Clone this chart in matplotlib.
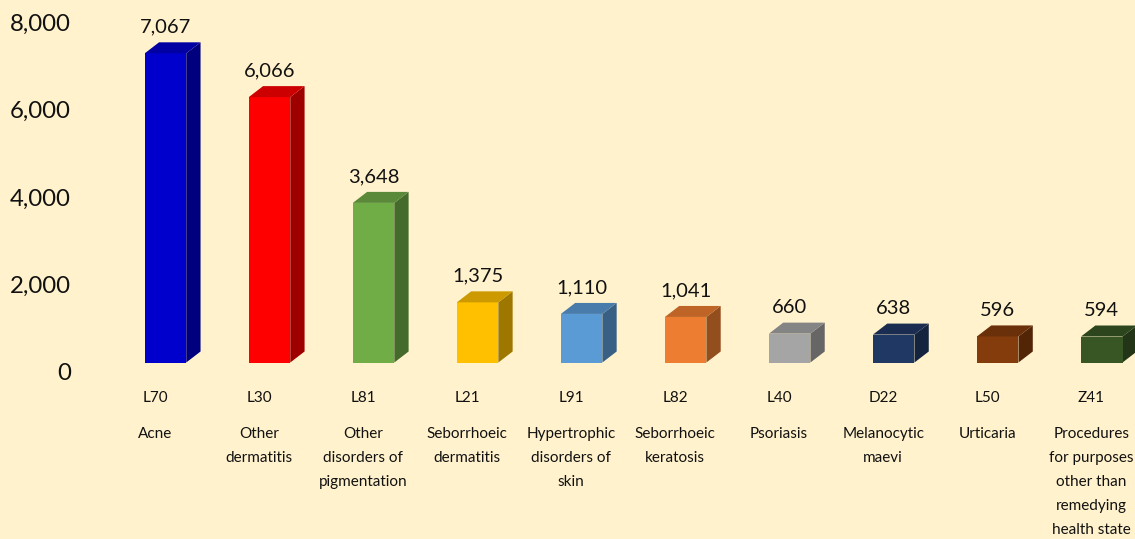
import matplotlib
matplotlib.use("Agg")
import matplotlib.pyplot as plt
import matplotlib.colors as mc
from matplotlib.patches import Polygon
import numpy as np

# ---- data ----
codes = ["L70", "L30", "L81", "L21", "L91", "L82", "L40", "D22", "L50", "Z41"]
names = ["Acne", "Other\ndermatitis", "Other\ndisorders of\npigmentation",
         "Seborrhoeic\ndermatitis", "Hypertrophic\ndisorders of\nskin",
         "Seborrhoeic\nkeratosis", "Psoriasis", "Melanocytic\nmaevi", "Urticaria",
         "Procedures\nfor purposes\nother than\nremedying\nhealth state"]
values = [7067, 6066, 3648, 1375, 1110, 1041, 660, 638, 596, 594]
colors = ["#0000CC", "#FF0000", "#70AD47", "#FFC000", "#5B9BD5",
          "#ED7D31", "#A5A5A5", "#203864", "#843C0C", "#375623"]
yticks = [0, 2000, 4000, 6000, 8000]
ytick_labels = ["0", "2,000", "4,000", "6,000", "8,000"]

# ---- style ----
BG = "#FFF2CC"
FONT = ["Lato", "DejaVu Sans"]
plt.rcParams["font.family"] = FONT

W, H, DPI = 1135, 539, 100
fig = plt.figure(figsize=(W / DPI, H / DPI), dpi=DPI, facecolor=BG)
left_px = 80
ax = fig.add_axes([left_px / W, 0, 1 - left_px / W, 1])
ax.set_facecolor(BG)

px_per_unit = 0.04375        # pixels per data unit on y
x0_px, step_px = 165.5, 104.03
ax.set_ylim((372 - H) / px_per_unit, 372 / px_per_unit)
ax.set_xlim((left_px - x0_px) / step_px, (W - x0_px) / step_px)

for s in ax.spines.values():
    s.set_visible(False)
ax.set_xticks([])
ax.set_yticks(yticks)
ax.set_yticklabels(ytick_labels)
ax.tick_params(axis="y", length=0, pad=6.5, labelsize=17.3, labelcolor="#111111")

bar_w = 41.5 / step_px
dx = 14.3 / step_px
dy = 11 / px_per_unit
floor = 9.5 / px_per_unit

x = np.arange(len(values))
bars = ax.bar(x, values, width=bar_w, bottom=floor, color=colors, zorder=3,
              edgecolor="none")

def shade(c, f):
    r, g, b = mc.to_rgb(c)
    return (r * f, g * f, b * f)

for b, c, v in zip(bars, colors, values):
    xl, xr = b.get_x(), b.get_x() + b.get_width()
    yb, yt = b.get_y(), b.get_y() + b.get_height()
    top = Polygon([(xl, yt), (xr, yt), (xr + dx, yt + dy), (xl + dx, yt + dy)],
                  closed=True, fc=shade(c, 0.8), ec="none", zorder=3)
    side = Polygon([(xr, yb), (xr + dx, yb + dy), (xr + dx, yt + dy), (xr, yt)],
                   closed=True, fc=shade(c, 0.62), ec="none", zorder=2)
    ax.add_patch(top)
    ax.add_patch(side)
    ax.annotate(f"{v:,}", xy=((xl + xr) / 2, yt + dy), xycoords="data",
                xytext=(0, 9.5), textcoords="offset pixels",
                ha="center", va="baseline", fontsize=14.5, color="#111111",
                zorder=5)

for i, (cd, nm) in enumerate(zip(codes, names)):
    ax.annotate(cd, xy=(i, 0), xycoords="data", xytext=(-10.5, -29.7),
                textcoords="offset pixels", ha="center", va="baseline",
                fontsize=11, color="#111111", annotation_clip=False)
    for j, line in enumerate(nm.split("\n")):
        ax.annotate(line, xy=(i, 0), xycoords="data",
                    xytext=(-10.5, -66.3 - 24 * j), textcoords="offset pixels",
                    ha="center", va="baseline", fontsize=11, color="#111111",
                    annotation_clip=False)

fig.savefig("out.png", dpi=DPI, facecolor=BG)
